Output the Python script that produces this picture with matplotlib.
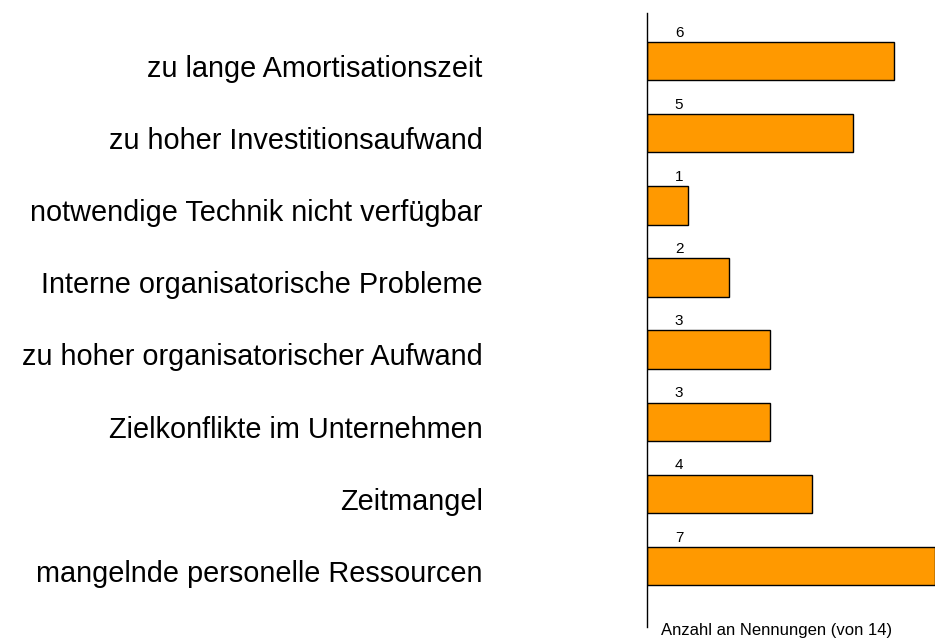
import matplotlib
matplotlib.use("Agg")
import matplotlib.pyplot as plt
import numpy as np

plt.rcParams["font.family"] = ["Liberation Sans", "DejaVu Sans"]

categories = [
    "zu lange Amortisationszeit",
    "zu hoher Investitionsaufwand",
    "notwendige Technik nicht verfügbar",
    "Interne organisatorische Probleme",
    "zu hoher organisatorischer Aufwand",
    "Zielkonflikte im Unternehmen",
    "Zeitmangel",
    "mangelnde personelle Ressourcen",
]
counts = [6, 5, 1, 2, 3, 3, 4, 7]
xlabel = "Anzahl an Nennungen (von 14)"

W, H = 935, 639
fig = plt.figure(figsize=(W / 100, H / 100), dpi=100)
ax = fig.add_axes([647 / W, 1 - 627 / H, (W - 647) / W, (627 - 13) / H])

y = np.arange(len(categories))
bar_h = 0.53
ax.barh(y, counts, height=bar_h, color="#FF9900", edgecolor="black", linewidth=1.0)

# value labels sit just above each bar, near the axis
for yi, v in zip(y, counts):
    ax.annotate(str(v), xy=(0.78, yi - bar_h / 2), xytext=(0, 1.5), textcoords="offset points",
                ha="center", va="bottom", fontsize=11)

ax.set_xlim(0, 7)
ax.set_ylim(len(categories) - 1 + 0.85, -0.67)
for s in ["top", "right", "bottom"]:
    ax.spines[s].set_visible(False)
ax.spines["left"].set_linewidth(1.0)
ax.set_xticks([])
ax.set_yticks([])

for yi, name in zip(y, categories):
    ax.text(-164 / 41.1, yi + 0.11, name, ha="right", va="center", fontsize=20.8, clip_on=False)

fig.text(661 / W, 1 - 631 / H, xlabel, ha="left", va="center", fontsize=12)

fig.savefig("out.png", dpi=100)
